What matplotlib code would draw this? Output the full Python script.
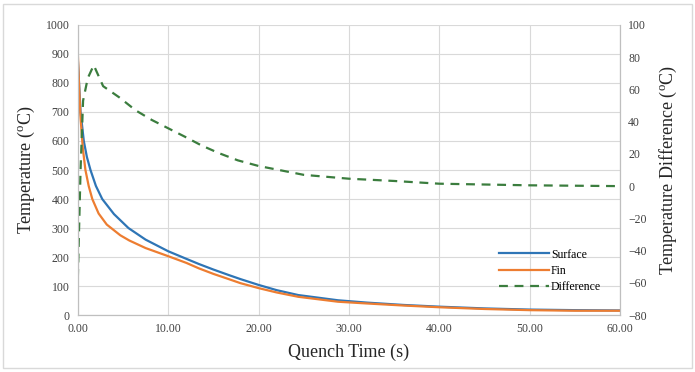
import matplotlib
matplotlib.use("Agg")
import matplotlib.pyplot as plt
from matplotlib.ticker import FormatStrFormatter

plt.rcParams['font.family'] = ['Liberation Serif', 'DejaVu Serif']
plt.rcParams['mathtext.fontset'] = 'custom'
plt.rcParams['mathtext.rm'] = 'Liberation Serif'

# Surface temperatures (left axis)
time_surface = [0.0, 0.15, 0.3, 0.66, 1.0, 1.4, 2.0, 2.7, 4.0, 5.6, 7.5, 10.0, 12.0,
                13.4, 15.0, 16.7, 18.0, 20.0, 22.0, 24.4, 28.8, 32.0, 36.0, 40.0,
                45.0, 50.0, 55.0, 60.0]
surface = [880, 790, 700, 600, 545, 500, 445, 400, 348, 300, 260, 220, 194,
           176, 157, 138, 124, 104, 86, 69, 51, 43, 35, 29, 23, 19, 17, 16]
# Fin temperatures (left axis)
time_fin = [0.0, 0.15, 0.3, 0.55, 0.84, 1.2, 1.6, 2.3, 3.2, 4.7, 5.7, 7.5, 10.0, 12.0,
            13.4, 15.0, 16.7, 18.0, 20.0, 22.0, 24.4, 28.8, 32.0, 36.0, 40.0,
            45.0, 50.0, 55.0, 60.0]
fin = [900, 780, 680, 575, 500, 445, 400, 350, 312, 275, 257, 231, 203, 180,
       161, 142, 124, 110, 93, 78, 63, 46, 40, 33, 27, 21, 17, 15, 15]

# Difference (right axis)
time_diff = [0.0, 0.3, 0.58, 1.1, 1.76, 2.8, 4.6, 6.4, 8.2, 10.1, 11.9, 13.7, 15.6,
             17.7, 20.0, 25.0, 30.0, 35.0, 40.0, 50.0, 60.0]
difference = [-57, 10, 53, 67, 75, 62, 55, 47, 41, 35.6, 30.5, 25.2, 20.5,
              16, 12.5, 7, 4.6, 3.2, 1.5, 0.5, 0]

fig = plt.figure(figsize=(6.95, 3.72), dpi=100)
fig.patch.set_facecolor('white')
border = plt.Rectangle((0.005, 0.01), 0.99, 0.98, transform=fig.transFigure,
                       fill=False, edgecolor='#d9d9d9', linewidth=1)
fig.patches.append(border)

ax = fig.add_axes([0.112, 0.153, 0.78, 0.78])
ax2 = ax.twinx()

ax.plot(time_surface, surface, color='#2e75b6', lw=1.6, label='Surface', zorder=3)
ax.plot(time_fin, fin, color='#ed7d31', lw=1.6, label='Fin', zorder=3)
ax2.plot(time_diff, difference, color='#3b7d3e', lw=1.6, ls=(0, (4, 3)), label='Difference')

ax.set_xlim(0, 60)
ax.set_ylim(0, 1000)
ax2.set_ylim(-80, 100)
ax.set_xticks(range(0, 61, 10))
ax.set_yticks(range(0, 1001, 100))
ax2.set_yticks(range(-80, 101, 20))
ax.xaxis.set_major_formatter(FormatStrFormatter('%.2f'))

ax.grid(True, color='#d9d9d9', lw=0.8)
ax.set_axisbelow(True)
for a in (ax, ax2):
    a.tick_params(length=0, labelsize=8.5, colors='#404040', pad=6)
    a.spines['top'].set_visible(False)
    for s in ('left', 'right', 'bottom'):
        a.spines[s].set_color('#bfbfbf')
        a.spines[s].set_linewidth(0.8)

ax.set_xlabel('Quench Time (s)', fontsize=13, color='#262626', labelpad=6)
ax.set_ylabel(r'Temperature ($^{\mathrm{o}}$C)', fontsize=13, color='#262626', labelpad=6)
ax2.set_ylabel(r'Temperature Difference ($^{\mathrm{o}}$C)', fontsize=13, color='#262626', labelpad=8)

h1, l1 = ax.get_legend_handles_labels()
h2, l2 = ax2.get_legend_handles_labels()
ax2.legend(h1 + h2, l1 + l2, loc='lower right', bbox_to_anchor=(0.985, 0.04),
           frameon=False, fontsize=8.5, handlelength=4.2, labelspacing=0.35, handletextpad=0.2)

fig.savefig('out.png', dpi=100, facecolor='white')
